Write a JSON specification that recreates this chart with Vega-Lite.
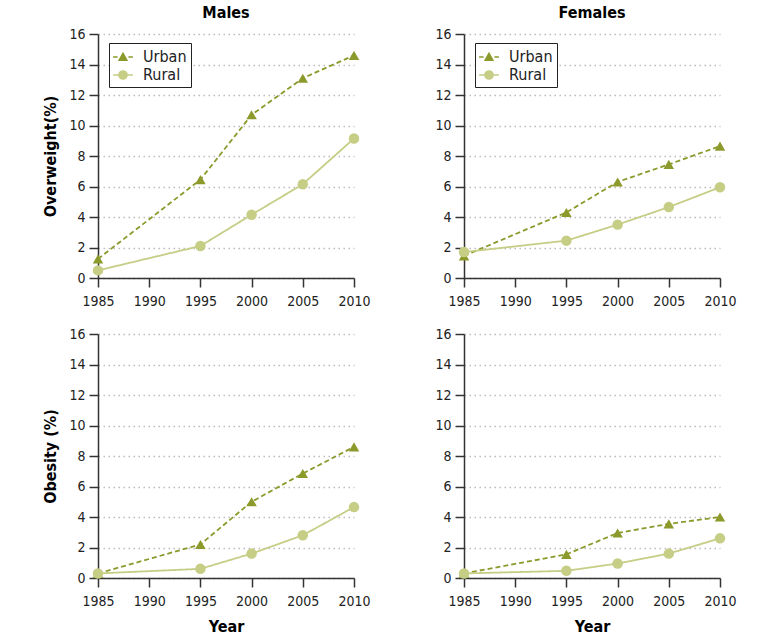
{
  "$schema": "https://vega.github.io/schema/vega-lite/v6.json",
  "background": "white",
  "padding": {"left": 42, "top": 5, "right": 5, "bottom": 5},
  "config": {
    "font": "DejaVu Sans Condensed, Liberation Sans, sans-serif",
    "view": {"stroke": null},
    "axis": {
      "labelFont": "DejaVu Sans Condensed, Liberation Sans, sans-serif",
      "labelFontSize": 14,
      "labelColor": "#222",
      "labelFlush": false,
      "domainColor": "#333",
      "tickColor": "#333",
      "domainWidth": 1.5,
      "tickWidth": 1.5,
      "tickSize": 9,
      "labelPadding": 4,
      "titleFont": "DejaVu Sans Condensed, Liberation Sans, sans-serif",
      "titleFontWeight": "bold",
      "titleFontSize": 16,
      "titleColor": "#000"
    },
    "axisY": {"grid": true, "gridDash": [1.5, 3.5], "gridColor": "#bbbbbb", "gridWidth": 1.3, "titlePadding": 10},
    "axisX": {"grid": false, "labelPadding": 7, "titlePadding": 10},
    "title": {"font": "DejaVu Sans Condensed, Liberation Sans, sans-serif", "fontSize": 16, "fontWeight": "bold", "color": "#000", "offset": 6},
    "legend": {"title": null, "orient": "none", "legendX": 11, "legendY": 9, "strokeColor": "#222", "fillColor": "white", "padding": 4, "symbolSize": 324, "symbolOpacity": 1, "symbolStrokeWidth": 1.6, "labelFont": "DejaVu Sans Condensed, Liberation Sans, sans-serif", "labelFontSize": 16, "labelColor": "#222", "labelOffset": 10, "rowPadding": 0}
  },
  "datasets": {
    "d": [
      {"sex": "Males", "measure": "Overweight", "area": "Urban", "year": 1985, "value": 1.25},
      {"sex": "Males", "measure": "Overweight", "area": "Urban", "year": 1995, "value": 6.45},
      {"sex": "Males", "measure": "Overweight", "area": "Urban", "year": 2000, "value": 10.7},
      {"sex": "Males", "measure": "Overweight", "area": "Urban", "year": 2005, "value": 13.1},
      {"sex": "Males", "measure": "Overweight", "area": "Urban", "year": 2010, "value": 14.6},
      {"sex": "Males", "measure": "Overweight", "area": "Rural", "year": 1985, "value": 0.5},
      {"sex": "Males", "measure": "Overweight", "area": "Rural", "year": 1995, "value": 2.1},
      {"sex": "Males", "measure": "Overweight", "area": "Rural", "year": 2000, "value": 4.15},
      {"sex": "Males", "measure": "Overweight", "area": "Rural", "year": 2005, "value": 6.15},
      {"sex": "Males", "measure": "Overweight", "area": "Rural", "year": 2010, "value": 9.15},
      {"sex": "Females", "measure": "Overweight", "area": "Urban", "year": 1985, "value": 1.45},
      {"sex": "Females", "measure": "Overweight", "area": "Urban", "year": 1995, "value": 4.3},
      {"sex": "Females", "measure": "Overweight", "area": "Urban", "year": 2000, "value": 6.3},
      {"sex": "Females", "measure": "Overweight", "area": "Urban", "year": 2005, "value": 7.45},
      {"sex": "Females", "measure": "Overweight", "area": "Urban", "year": 2010, "value": 8.65},
      {"sex": "Females", "measure": "Overweight", "area": "Rural", "year": 1985, "value": 1.7},
      {"sex": "Females", "measure": "Overweight", "area": "Rural", "year": 1995, "value": 2.45},
      {"sex": "Females", "measure": "Overweight", "area": "Rural", "year": 2000, "value": 3.5},
      {"sex": "Females", "measure": "Overweight", "area": "Rural", "year": 2005, "value": 4.65},
      {"sex": "Females", "measure": "Overweight", "area": "Rural", "year": 2010, "value": 5.95},
      {"sex": "Males", "measure": "Obesity", "area": "Urban", "year": 1985, "value": 0.3},
      {"sex": "Males", "measure": "Obesity", "area": "Urban", "year": 1995, "value": 2.2},
      {"sex": "Males", "measure": "Obesity", "area": "Urban", "year": 2000, "value": 5.0},
      {"sex": "Males", "measure": "Obesity", "area": "Urban", "year": 2005, "value": 6.85},
      {"sex": "Males", "measure": "Obesity", "area": "Urban", "year": 2010, "value": 8.6},
      {"sex": "Males", "measure": "Obesity", "area": "Rural", "year": 1985, "value": 0.3},
      {"sex": "Males", "measure": "Obesity", "area": "Rural", "year": 1995, "value": 0.6},
      {"sex": "Males", "measure": "Obesity", "area": "Rural", "year": 2000, "value": 1.6},
      {"sex": "Males", "measure": "Obesity", "area": "Rural", "year": 2005, "value": 2.8},
      {"sex": "Males", "measure": "Obesity", "area": "Rural", "year": 2010, "value": 4.65},
      {"sex": "Females", "measure": "Obesity", "area": "Urban", "year": 1985, "value": 0.3},
      {"sex": "Females", "measure": "Obesity", "area": "Urban", "year": 1995, "value": 1.55},
      {"sex": "Females", "measure": "Obesity", "area": "Urban", "year": 2000, "value": 2.95},
      {"sex": "Females", "measure": "Obesity", "area": "Urban", "year": 2005, "value": 3.55},
      {"sex": "Females", "measure": "Obesity", "area": "Urban", "year": 2010, "value": 4.0},
      {"sex": "Females", "measure": "Obesity", "area": "Rural", "year": 1985, "value": 0.3},
      {"sex": "Females", "measure": "Obesity", "area": "Rural", "year": 1995, "value": 0.47},
      {"sex": "Females", "measure": "Obesity", "area": "Rural", "year": 2000, "value": 0.95},
      {"sex": "Females", "measure": "Obesity", "area": "Rural", "year": 2005, "value": 1.6},
      {"sex": "Females", "measure": "Obesity", "area": "Rural", "year": 2010, "value": 2.6}
    ]
  },
  "columns": 2,
  "spacing": {"row": 19, "column": 63},
  "resolve": {
    "scale": {"color": "independent", "shape": "independent", "strokeDash": "independent", "stroke": "independent"},
    "legend": {"color": "independent", "shape": "independent", "strokeDash": "independent", "stroke": "independent"}
  },
  "concat": [
    {
      "width": 256, "height": 244,
      "title": "Males",
      "data": {"name": "d"},
      "transform": [{"filter": "datum.sex === 'Males' && datum.measure === 'Overweight'"}],
      "encoding": {
        "x": {"field": "year", "type": "quantitative", "scale": {"domain": [1985, 2010], "nice": false, "zero": false}, "axis": {"values": [1985, 1990, 1995, 2000, 2005, 2010], "format": "d", "title": null}},
        "y": {"field": "value", "type": "quantitative", "scale": {"domain": [0, 16], "nice": false}, "axis": {"values": [0, 2, 4, 6, 8, 10, 12, 14, 16], "title": "Overweight(%)"}}
      },
      "resolve": {"scale": {"color": "independent", "shape": "independent", "stroke": "independent"}, "legend": {"color": "independent", "shape": "independent", "stroke": "independent"}},
      "layer": [
        {"mark": {"type": "line", "strokeWidth": 1.8}, "encoding": {
          "color": {"field": "area", "type": "nominal", "scale": {"domain": ["Urban", "Rural"], "range": ["#8c9a2c", "#c6cd85"]}, "legend": null},
          "strokeDash": {"field": "area", "type": "nominal", "scale": {"domain": ["Urban", "Rural"], "range": [[5, 3], [1, 0]]}, "legend": null}}},
        {"mark": {"type": "point", "filled": true, "opacity": 1, "size": 110}, "encoding": {
          "color": {"field": "area", "type": "nominal", "scale": {"domain": ["Urban", "Rural"], "range": ["#8c9a2c", "#c6cd85"]}, "legend": null},
          "shape": {"field": "area", "type": "nominal", "scale": {"domain": ["Urban", "Rural"], "range": ["triangle-up", "circle"]}, "legend": null}}},
        {"mark": {"type": "point", "filled": true, "opacity": 0, "size": 324}, "encoding": {
          "color": {"field": "area", "type": "nominal", "scale": {"domain": ["Urban", "Rural"], "range": ["#8c9a2c", "#c6cd85"]}, "legend": {}},
          "stroke": {"field": "area", "type": "nominal", "scale": {"domain": ["Urban", "Rural"], "range": ["#8c9a2c", "#c6cd85"]}, "legend": {}},
          "shape": {"field": "area", "type": "nominal", "scale": {"domain": ["Urban", "Rural"], "range": ["M-1.1,0H-0.6M0.6,0H1.1M-0.42,0.36L0,-0.4L0.42,0.36Z", "M-1.1,0H1.1M0.45,0A0.45,0.45,0,1,1,-0.45,0A0.45,0.45,0,1,1,0.45,0Z"]}, "legend": {}}}}
      ]
    },
    {
      "width": 256, "height": 244,
      "title": "Females",
      "data": {"name": "d"},
      "transform": [{"filter": "datum.sex === 'Females' && datum.measure === 'Overweight'"}],
      "encoding": {
        "x": {"field": "year", "type": "quantitative", "scale": {"domain": [1985, 2010], "nice": false, "zero": false}, "axis": {"values": [1985, 1990, 1995, 2000, 2005, 2010], "format": "d", "title": null}},
        "y": {"field": "value", "type": "quantitative", "scale": {"domain": [0, 16], "nice": false}, "axis": {"values": [0, 2, 4, 6, 8, 10, 12, 14, 16], "title": null}}
      },
      "resolve": {"scale": {"color": "independent", "shape": "independent", "stroke": "independent"}, "legend": {"color": "independent", "shape": "independent", "stroke": "independent"}},
      "layer": [
        {"mark": {"type": "line", "strokeWidth": 1.8}, "encoding": {
          "color": {"field": "area", "type": "nominal", "scale": {"domain": ["Urban", "Rural"], "range": ["#8c9a2c", "#c6cd85"]}, "legend": null},
          "strokeDash": {"field": "area", "type": "nominal", "scale": {"domain": ["Urban", "Rural"], "range": [[5, 3], [1, 0]]}, "legend": null}}},
        {"mark": {"type": "point", "filled": true, "opacity": 1, "size": 110}, "encoding": {
          "color": {"field": "area", "type": "nominal", "scale": {"domain": ["Urban", "Rural"], "range": ["#8c9a2c", "#c6cd85"]}, "legend": null},
          "shape": {"field": "area", "type": "nominal", "scale": {"domain": ["Urban", "Rural"], "range": ["triangle-up", "circle"]}, "legend": null}}},
        {"mark": {"type": "point", "filled": true, "opacity": 0, "size": 324}, "encoding": {
          "color": {"field": "area", "type": "nominal", "scale": {"domain": ["Urban", "Rural"], "range": ["#8c9a2c", "#c6cd85"]}, "legend": {}},
          "stroke": {"field": "area", "type": "nominal", "scale": {"domain": ["Urban", "Rural"], "range": ["#8c9a2c", "#c6cd85"]}, "legend": {}},
          "shape": {"field": "area", "type": "nominal", "scale": {"domain": ["Urban", "Rural"], "range": ["M-1.1,0H-0.6M0.6,0H1.1M-0.42,0.36L0,-0.4L0.42,0.36Z", "M-1.1,0H1.1M0.45,0A0.45,0.45,0,1,1,-0.45,0A0.45,0.45,0,1,1,0.45,0Z"]}, "legend": {}}}}
      ]
    },
    {
      "width": 256, "height": 244,
      "data": {"name": "d"},
      "transform": [{"filter": "datum.sex === 'Males' && datum.measure === 'Obesity'"}],
      "encoding": {
        "x": {"field": "year", "type": "quantitative", "scale": {"domain": [1985, 2010], "nice": false, "zero": false}, "axis": {"values": [1985, 1990, 1995, 2000, 2005, 2010], "format": "d", "title": "Year"}},
        "y": {"field": "value", "type": "quantitative", "scale": {"domain": [0, 16], "nice": false}, "axis": {"values": [0, 2, 4, 6, 8, 10, 12, 14, 16], "title": "Obesity (%)"}},
        "color": {"field": "area", "type": "nominal", "scale": {"domain": ["Urban", "Rural"], "range": ["#8c9a2c", "#c6cd85"]}, "legend": null}
      },
      "layer": [
        {"mark": {"type": "line", "strokeWidth": 1.8}, "encoding": {"strokeDash": {"field": "area", "type": "nominal", "scale": {"domain": ["Urban", "Rural"], "range": [[5, 3], [1, 0]]}, "legend": null}}},
        {"mark": {"type": "point", "filled": true, "opacity": 1, "size": 110}, "encoding": {"shape": {"field": "area", "type": "nominal", "scale": {"domain": ["Urban", "Rural"], "range": ["triangle-up", "circle"]}, "legend": null}}}
      ]
    },
    {
      "width": 256, "height": 244,
      "data": {"name": "d"},
      "transform": [{"filter": "datum.sex === 'Females' && datum.measure === 'Obesity'"}],
      "encoding": {
        "x": {"field": "year", "type": "quantitative", "scale": {"domain": [1985, 2010], "nice": false, "zero": false}, "axis": {"values": [1985, 1990, 1995, 2000, 2005, 2010], "format": "d", "title": "Year"}},
        "y": {"field": "value", "type": "quantitative", "scale": {"domain": [0, 16], "nice": false}, "axis": {"values": [0, 2, 4, 6, 8, 10, 12, 14, 16], "title": null}},
        "color": {"field": "area", "type": "nominal", "scale": {"domain": ["Urban", "Rural"], "range": ["#8c9a2c", "#c6cd85"]}, "legend": null}
      },
      "layer": [
        {"mark": {"type": "line", "strokeWidth": 1.8}, "encoding": {"strokeDash": {"field": "area", "type": "nominal", "scale": {"domain": ["Urban", "Rural"], "range": [[5, 3], [1, 0]]}, "legend": null}}},
        {"mark": {"type": "point", "filled": true, "opacity": 1, "size": 110}, "encoding": {"shape": {"field": "area", "type": "nominal", "scale": {"domain": ["Urban", "Rural"], "range": ["triangle-up", "circle"]}, "legend": null}}}
      ]
    }
  ]
}
